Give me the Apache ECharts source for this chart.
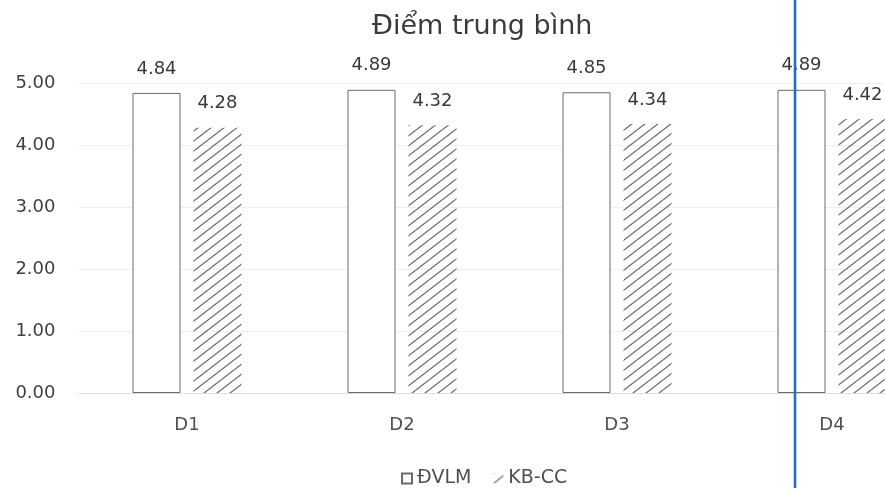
<!DOCTYPE html>
<html>
<head>
<meta charset="utf-8">
<script src="https://cdn.jsdelivr.net/npm/echarts@6/dist/echarts.min.js"></script>
<style>
  html, body { margin: 0; padding: 0; background: #ffffff; }
  #chart { width: 885px; height: 488px; }
</style>
</head>
<body>
<div id="chart"></div>
<script>
// ---- data ----
var categories = ['D1', 'D2', 'D3', 'D4'];
var dvlmValues = [4.84, 4.89, 4.85, 4.89];
var kbccValues = [4.28, 4.32, 4.34, 4.42];
var seriesNames = ['ĐVLM', 'KB-CC'];
var titleText = 'Điểm trung bình';

// ---- hatch pattern ----
function makeHatch() {
  var W = 13, H = 10;
  var c = document.createElement('canvas');
  c.width = W; c.height = H;
  var ctx = c.getContext('2d');
  ctx.strokeStyle = '#6e6e6e';
  ctx.lineWidth = 1.3;
  for (var m = 0; m <= 2; m++) {
    ctx.beginPath();
    ctx.moveTo(0, m * H);
    ctx.lineTo(W, (m - 1) * H);
    ctx.stroke();
  }
  return c;
}
var hatch = makeHatch();

var FONT = '"DejaVu Sans", sans-serif';
var chart = echarts.init(document.getElementById('chart'), null, { renderer: 'canvas' });

var option = {
  backgroundColor: '#ffffff',
  animation: false,
  title: {
    text: titleText,
    left: 367,
    top: 8,
    textStyle: { fontFamily: FONT, fontSize: 27, fontWeight: 'normal', color: '#3a3a3a' }
  },
  legend: {
    data: seriesNames,
    left: 396,
    top: 464,
    icon: 'rect',
    itemWidth: 10,
    itemHeight: 10,
    itemGap: 22,
    textStyle: { fontFamily: FONT, fontSize: 19, color: '#505050' }
  },
  grid: { left: 79.5, top: 83, width: 860, bottom: 95, containLabel: false, outerBoundsMode: 'none' },
  xAxis: {
    type: 'category',
    data: categories,
    axisTick: { show: false },
    axisLine: { show: true, lineStyle: { color: '#d9d9d9', width: 1, type: 'dotted' } },
    axisLabel: { margin: 23, fontFamily: FONT, fontSize: 18, color: '#505050' }
  },
  yAxis: {
    type: 'value',
    min: 0, max: 5, interval: 1,
    axisLine: { show: false },
    axisTick: { show: false },
    splitLine: { show: true, lineStyle: { color: '#dedede', width: 1, type: 'dotted' } },
    axisLabel: {
      margin: 24, fontFamily: FONT, fontSize: 18, color: '#404040',
      formatter: function (v) { return v.toFixed(2); }
    }
  },
  series: [
    {
      name: seriesNames[0],
      type: 'bar',
      data: dvlmValues,
      barWidth: 48,
      barGap: '27%',
      itemStyle: { color: '#ffffff', borderColor: '#6a6a6a', borderWidth: 1 },
      label: {
        show: true, position: 'top', distance: 15,
        fontFamily: FONT, fontSize: 18, color: '#3a3a3a',
        formatter: function (p) { return p.value.toFixed(2); }
      }
    },
    {
      name: seriesNames[1],
      type: 'bar',
      data: kbccValues,
      barWidth: 48,
      itemStyle: { color: { image: hatch, repeat: 'repeat' } },
      label: {
        show: true, position: 'top', distance: 15,
        fontFamily: FONT, fontSize: 18, color: '#3a3a3a',
        formatter: function (p) { return p.value.toFixed(2); }
      }
    }
  ],
  graphic: [
    {
      type: 'line',
      shape: { x1: 795, y1: 0, x2: 795, y2: 488 },
      style: { stroke: '#1f6fc4', lineWidth: 2.6 },
      z: 100
    }
  ]
};
chart.setOption(option);
</script>
</body>
</html>
